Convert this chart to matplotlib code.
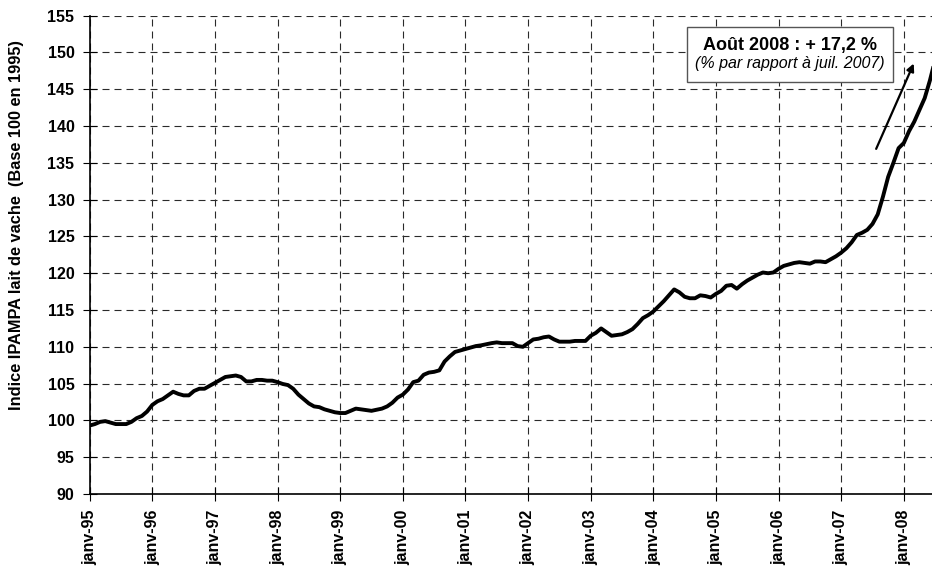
import matplotlib.pyplot as plt
from matplotlib.patches import Rectangle

plt.rcParams['font.family'] = ['Liberation Sans', 'DejaVu Sans']

# Indice IPAMPA lait de vache, mensuel, janv-95 -> août-08 (base 100 en 1995)
y1995 = [99.3, 99.5, 99.8, 99.9, 99.7, 99.5, 99.5, 99.5, 99.8, 100.3, 100.6, 101.2]
y1996 = [102.1, 102.6, 102.9, 103.4, 103.9, 103.6, 103.4, 103.4, 104.0, 104.3, 104.3, 104.7]
y1997 = [105.1, 105.5, 105.9, 106.0, 106.1, 105.9, 105.3, 105.3, 105.5, 105.5, 105.4, 105.4]
y1998 = [105.2, 104.95, 104.8, 104.3, 103.5, 102.9, 102.3, 101.9, 101.8, 101.5, 101.3, 101.1]
y1999 = [101.0, 101.0, 101.3, 101.6, 101.5, 101.4, 101.3, 101.45, 101.6, 101.9, 102.4, 103.1]
y2000 = [103.5, 104.2, 105.2, 105.4, 106.2, 106.5, 106.6, 106.8, 108.0, 108.7, 109.3, 109.5]
y2001 = [109.7, 109.9, 110.1, 110.2, 110.35, 110.5, 110.6, 110.5, 110.5, 110.5, 110.1, 110.0]
y2002 = [110.5, 111.0, 111.1, 111.3, 111.4, 111.0, 110.7, 110.7, 110.7, 110.8, 110.8, 110.8]
y2003 = [111.5, 111.9, 112.5, 112.0, 111.5, 111.6, 111.7, 112.0, 112.4, 113.1, 113.9, 114.3]
y2004 = [114.8, 115.5, 116.2, 117.0, 117.8, 117.4, 116.8, 116.6, 116.6, 117.0, 116.9, 116.7]
y2005 = [117.2, 117.6, 118.3, 118.4, 117.9, 118.5, 119.0, 119.4, 119.8, 120.1, 120.0, 120.1]
y2006 = [120.6, 121.0, 121.2, 121.4, 121.5, 121.4, 121.3, 121.6, 121.6, 121.5, 121.9, 122.3]
y2007 = [122.8, 123.4, 124.2, 125.2, 125.5, 125.9, 126.7, 128.0, 130.4, 133.1, 135.0, 137.0]
y2008 = [137.7, 139.3, 140.6, 142.2, 143.8, 146.2, 149.0, 150.5]

values = (y1995 + y1996 + y1997 + y1998 + y1999 + y2000 + y2001 + y2002
          + y2003 + y2004 + y2005 + y2006 + y2007 + y2008)
months = list(range(len(values)))

tick_labels = ['janv-95', 'janv-96', 'janv-97', 'janv-98', 'janv-99', 'janv-00', 'janv-01',
               'janv-02', 'janv-03', 'janv-04', 'janv-05', 'janv-06', 'janv-07', 'janv-08']
tick_pos = [12 * i for i in range(len(tick_labels))]

fig = plt.figure(figsize=(9.32, 5.71), dpi=100)
ax = fig.add_axes([0.0962, 0.1349, 0.9038, 0.8376])

ax.plot(months, values, color='black', lw=2.8, solid_joinstyle='round', zorder=3)

ax.set_xlim(0, 161.4)
ax.set_ylim(90, 155)
ax.set_yticks(range(90, 156, 5))
ax.set_xticks(tick_pos)
ax.set_xticklabels(tick_labels, rotation=90, fontsize=11.5, fontweight='bold')
for lab in ax.get_yticklabels():
    lab.set_fontsize(11.5)
    lab.set_fontweight('bold')

ax.grid(True, color='#2a2a2a', lw=0.8, linestyle=(0, (6.3, 4.5)))
ax.set_axisbelow(True)
ax.tick_params(direction='inout', length=10, width=0.8, colors='black', pad=6)

for s in ['top', 'right']:
    ax.spines[s].set_visible(False)
ax.spines['left'].set_linewidth(1.2)
ax.spines['bottom'].set_linewidth(1.2)

ax.set_ylabel('Indice IPAMPA lait de vache  (Base 100 en 1995)', fontsize=11.8,
              fontweight='bold')
ax.yaxis.set_label_coords(-0.078, 0.5624)

# encadré
ax.add_patch(Rectangle((0.7088, 0.862), 0.2453, 0.1138, transform=ax.transAxes,
                       facecolor='white', edgecolor='#555555', lw=1.0, zorder=4))
ax.text(0.8314, 0.9387, 'Août 2008 : + 17,2 %', transform=ax.transAxes, ha='center',
        va='center', fontsize=13, fontweight='bold', zorder=5)
ax.text(0.8314, 0.9005, '(% par rapport à juil. 2007)', transform=ax.transAxes,
        ha='center', va='center', fontsize=11.5, style='italic', zorder=5)

ax.annotate('', xy=(157.9, 148.5), xytext=(150.7, 136.9),
            arrowprops=dict(arrowstyle='-|>', color='black', lw=1.6,
                            mutation_scale=11, shrinkA=0, shrinkB=0), zorder=5)

fig.savefig('out.png', dpi=100)
